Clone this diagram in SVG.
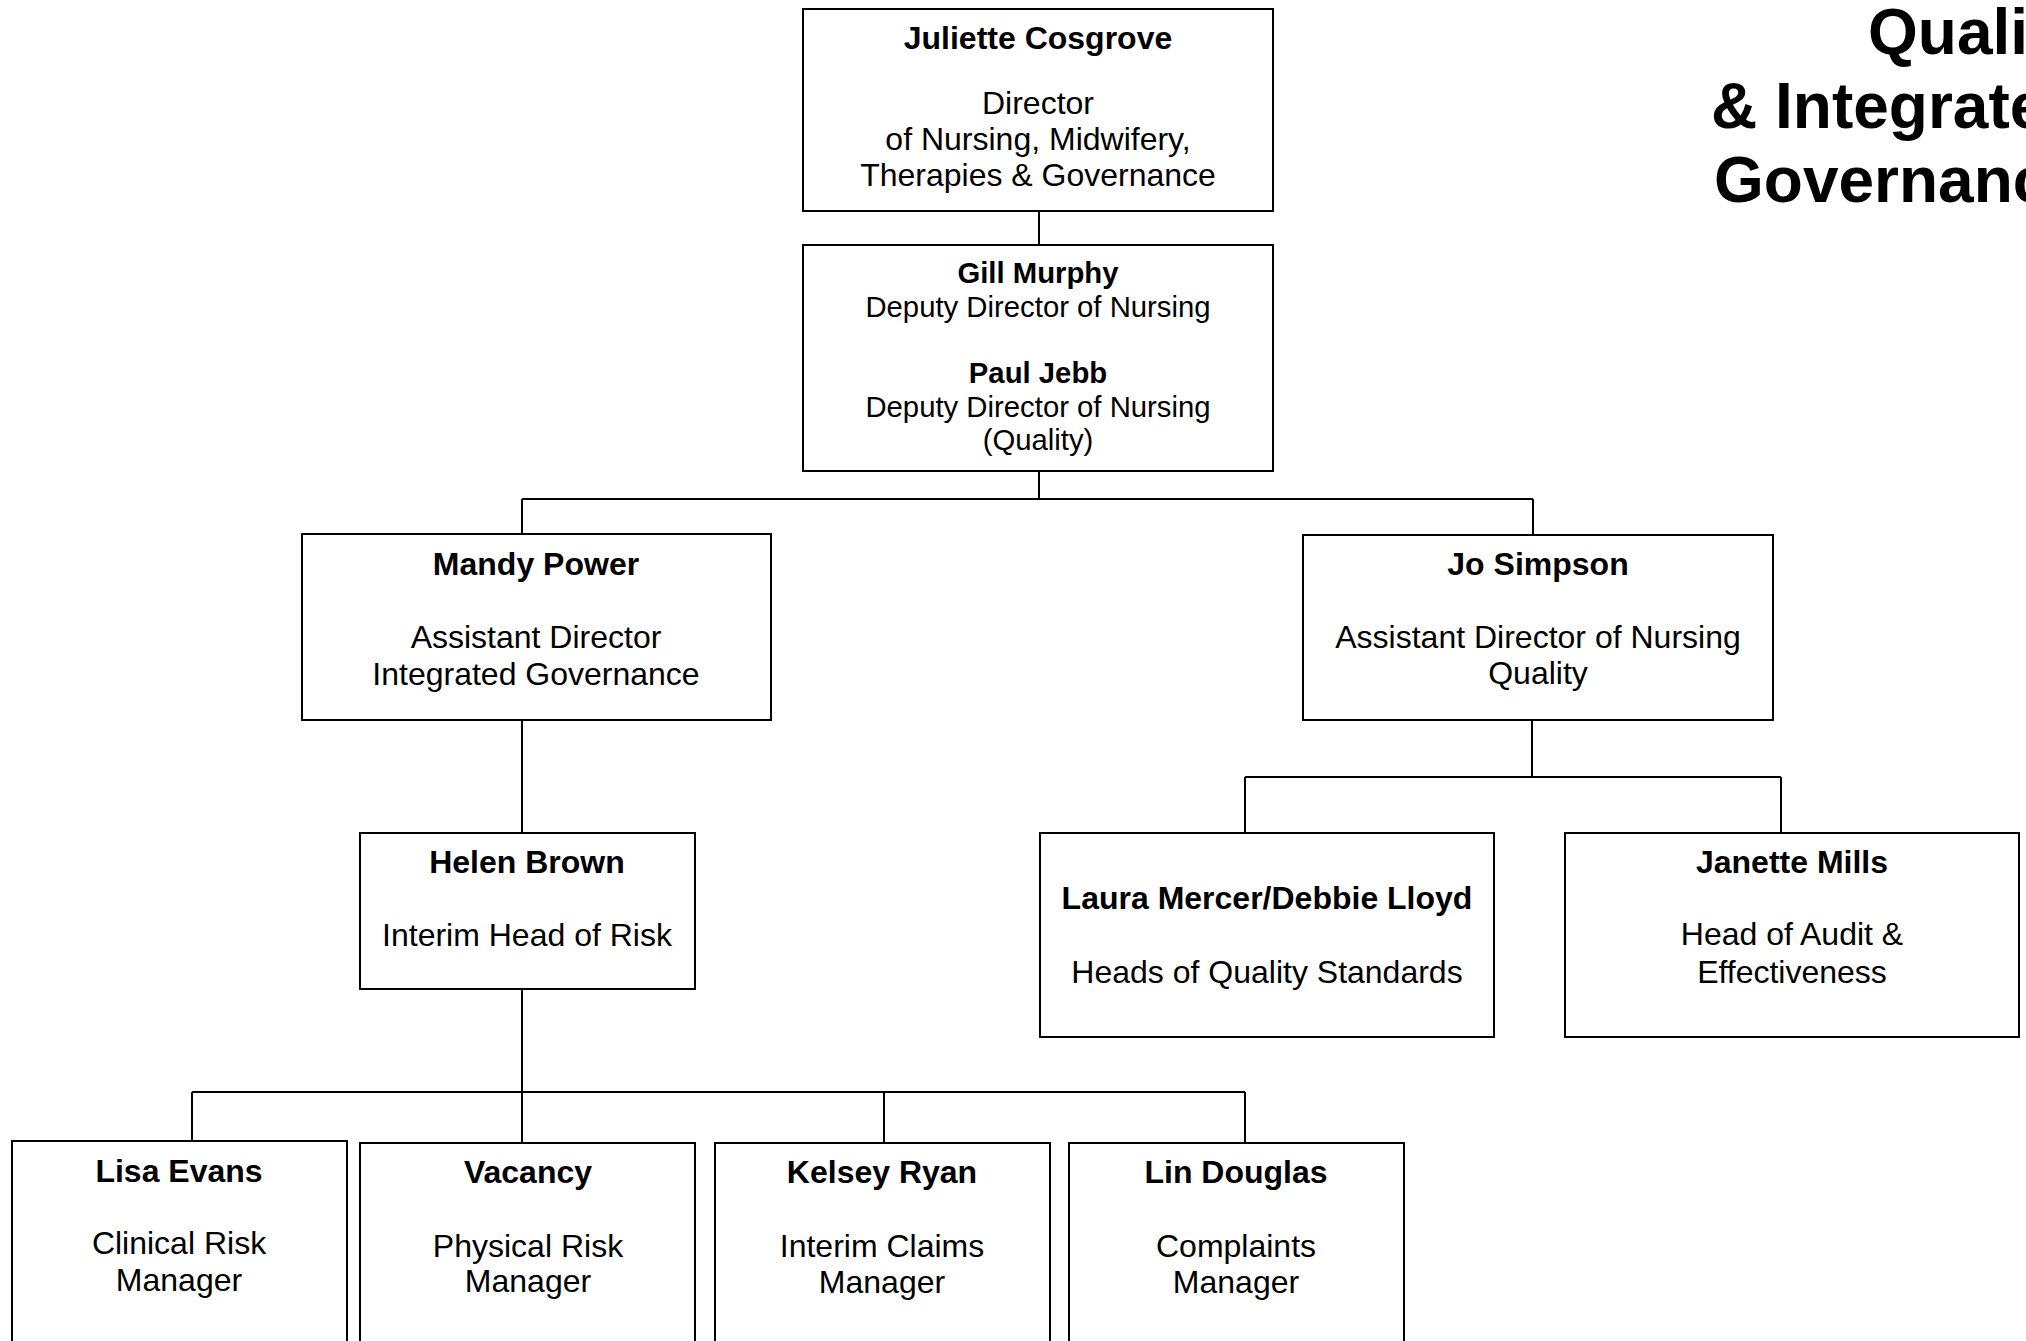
<svg xmlns="http://www.w3.org/2000/svg" width="2026" height="1341" viewBox="0 0 2026 1341">
<style>
.box{fill:#fff;stroke:#000;stroke-width:2}
.ln{fill:none;stroke:#000;stroke-width:2}
text{font-family:"Liberation Sans",Arial,sans-serif;font-size:32px;fill:#000;text-anchor:middle}
.b{font-weight:bold}
.s{font-size:29.3px}
.title{font-size:64px;font-weight:bold;text-anchor:start}
</style>
<rect width="2026" height="1341" fill="#fff"/>
<g id="connectors">
<path class="ln" d="M1039 211V245"/>
<path class="ln" d="M1039 471V499M522 499H1533M522 499V534M1533 499V535"/>
<path class="ln" d="M522 720V833"/>
<path class="ln" d="M1532 720V777M1245 777H1781M1245 777V833M1781 777V833"/>
<path class="ln" d="M522 989V1143M192 1092H1245M192 1092V1141M884 1092V1143M1245 1092V1143"/>
</g>
<g id="title">
<text class="title" x="1868" y="54">Quali</text>
<text class="title" x="1711" y="128">&amp; Integrate</text>
<text class="title" x="1714" y="202">Governanc</text>
</g>
<g id="juliette">
<rect class="box" x="803" y="9" width="470" height="202"/>
<text class="b" x="1038" y="49">Juliette Cosgrove</text>
<text x="1038" y="114">Director</text>
<text x="1038" y="150">of Nursing, Midwifery,</text>
<text x="1038" y="186">Therapies &amp; Governance</text>
</g>
<g id="deputies">
<rect class="box" x="803" y="245" width="470" height="226"/>
<text class="b s" x="1038" y="283">Gill Murphy</text>
<text class="s" x="1038" y="317">Deputy Director of Nursing</text>
<text class="b s" x="1038" y="383">Paul Jebb</text>
<text class="s" x="1038" y="417">Deputy Director of Nursing</text>
<text class="s" x="1038" y="450">(Quality)</text>
</g>
<g id="mandy">
<rect class="box" x="302" y="534" width="469" height="186"/>
<text class="b" x="536" y="575">Mandy Power</text>
<text x="536" y="648">Assistant Director</text>
<text x="536" y="685">Integrated Governance</text>
</g>
<g id="jo">
<rect class="box" x="1303" y="535" width="470" height="185"/>
<text class="b" x="1538" y="575">Jo Simpson</text>
<text x="1538" y="648">Assistant Director of Nursing</text>
<text x="1538" y="684">Quality</text>
</g>
<g id="helen">
<rect class="box" x="360" y="833" width="335" height="156"/>
<text class="b" x="527" y="873">Helen Brown</text>
<text x="527" y="946">Interim Head of Risk</text>
</g>
<g id="laura">
<rect class="box" x="1040" y="833" width="454" height="204"/>
<text class="b" x="1267" y="909">Laura Mercer/Debbie Lloyd</text>
<text x="1267" y="983">Heads of Quality Standards</text>
</g>
<g id="janette">
<rect class="box" x="1565" y="833" width="454" height="204"/>
<text class="b" x="1792" y="873">Janette Mills</text>
<text x="1792" y="945">Head of Audit &amp;</text>
<text x="1792" y="983">Effectiveness</text>
</g>
<g id="lisa">
<rect class="box" x="12" y="1141" width="335" height="230"/>
<text class="b" x="179" y="1182">Lisa Evans</text>
<text x="179" y="1254">Clinical Risk</text>
<text x="179" y="1291">Manager</text>
</g>
<g id="vacancy">
<rect class="box" x="360" y="1143" width="335" height="230"/>
<text class="b" x="528" y="1183">Vacancy</text>
<text x="528" y="1257">Physical Risk</text>
<text x="528" y="1292">Manager</text>
</g>
<g id="kelsey">
<rect class="box" x="715" y="1143" width="335" height="230"/>
<text class="b" x="882" y="1183">Kelsey Ryan</text>
<text x="882" y="1257">Interim Claims</text>
<text x="882" y="1293">Manager</text>
</g>
<g id="lin">
<rect class="box" x="1069" y="1143" width="335" height="230"/>
<text class="b" x="1236" y="1183">Lin Douglas</text>
<text x="1236" y="1257">Complaints</text>
<text x="1236" y="1293">Manager</text>
</g>
</svg>
